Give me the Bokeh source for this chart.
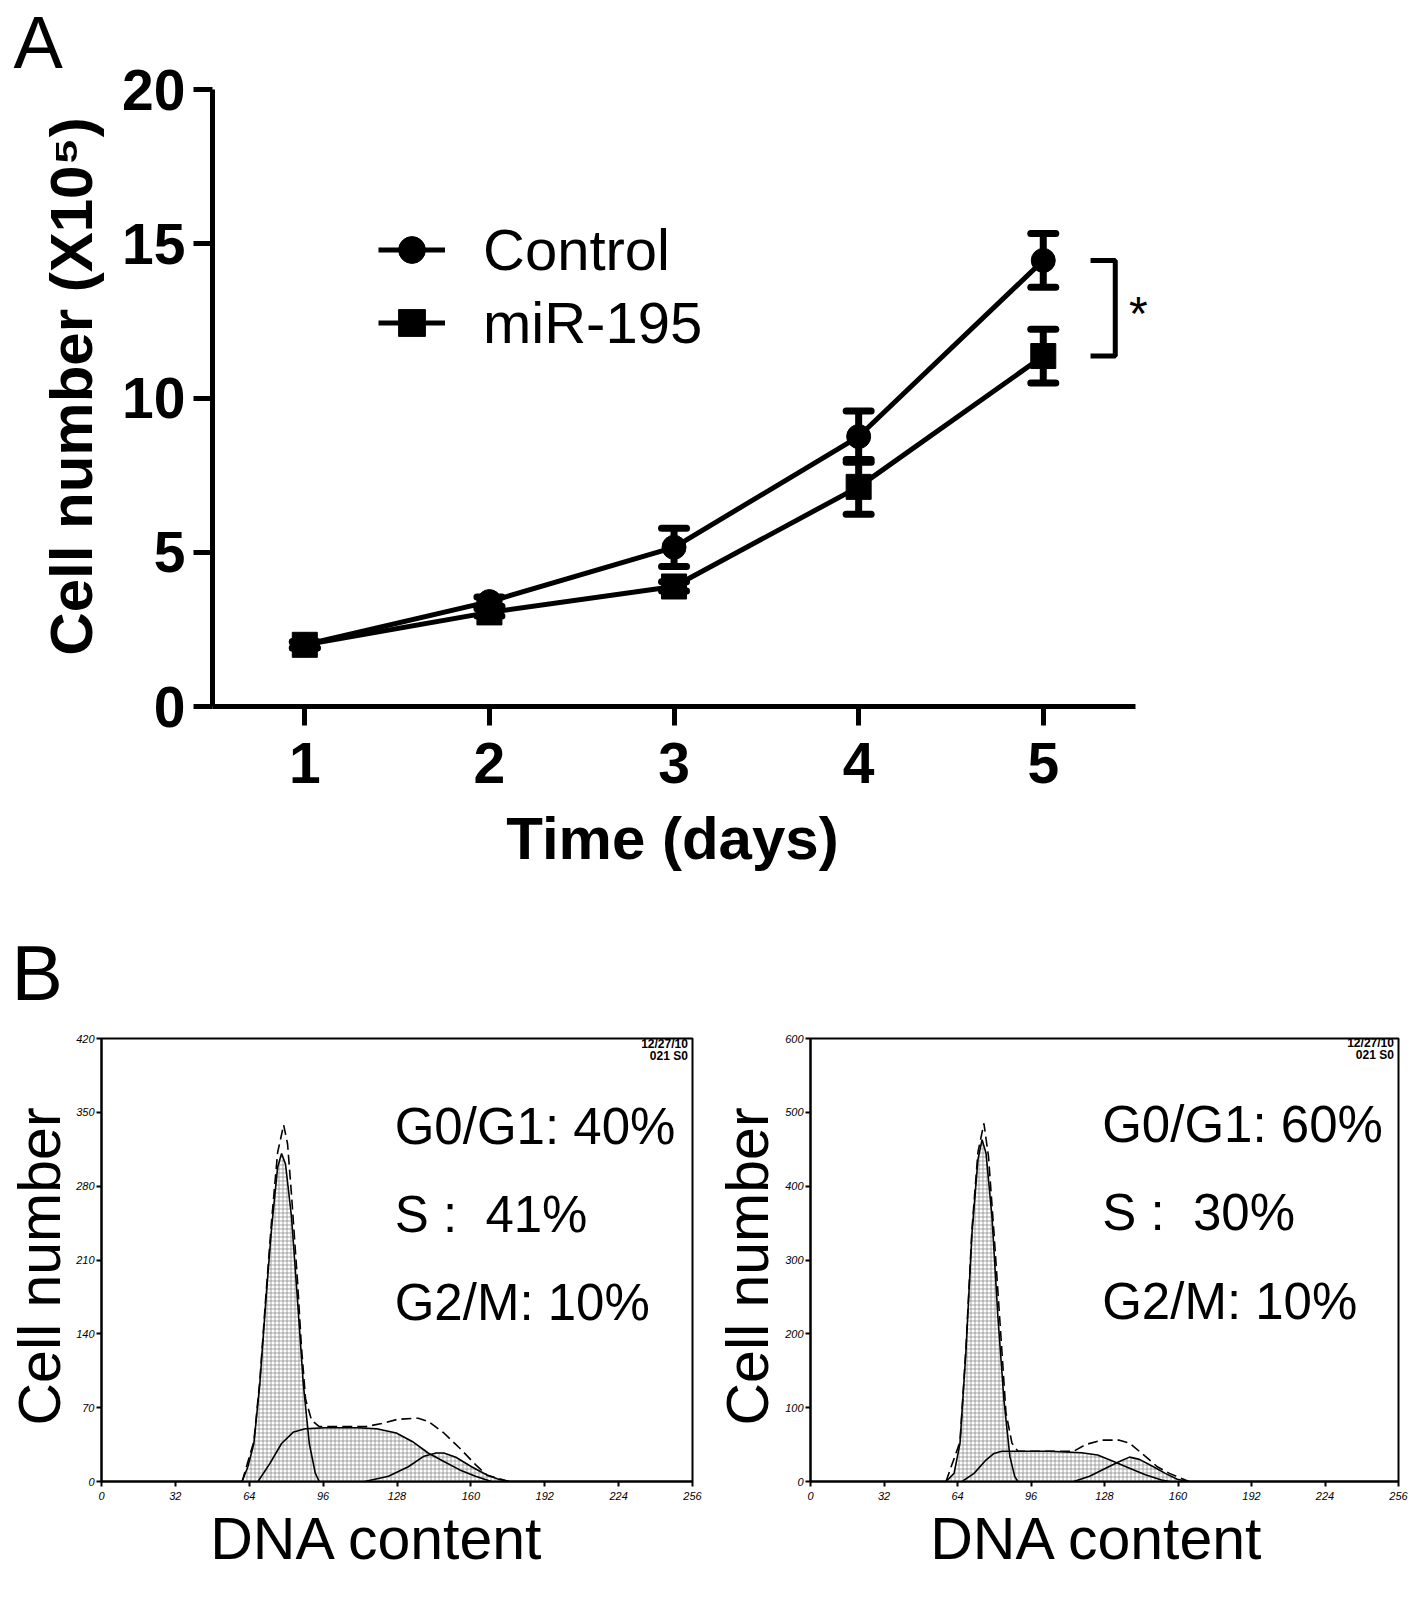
import numpy as np
from bokeh.plotting import figure
from bokeh.layouts import column, row
from bokeh.models import (ColumnDataSource, Whisker, TeeHead, Legend, LegendItem,
                          Label, FixedTicker, Range1d)
from bokeh.embed import file_html
from bokeh.resources import INLINE

FONT = "Liberation Sans"

# ---- panel A: growth curve ----
days = [1, 2, 3, 4, 5]
control_mean = [2.0, 3.4, 5.16, 8.75, 14.46]
control_err = [0.1, 0.15, 0.62, 0.83, 0.87]
mir_mean = [2.0, 3.05, 3.89, 7.12, 11.36]
mir_err = [0.1, 0.12, 0.15, 0.89, 0.87]
cell_ticks = [0, 5, 10, 15, 20]

# ---- panel B: DNA histograms ----
dna_ticks = [0, 32, 64, 96, 128, 160, 192, 224, 256]
left_count_ticks = [0, 70, 140, 210, 280, 350, 420]
right_count_ticks = [0, 100, 200, 300, 400, 500, 600]

left_g1_dna = [60.9, 63.4, 66.0, 68.6, 71.2, 73.7, 76.3, 78.0, 79.7, 82.3, 84.9, 87.4, 90.0, 92.6, 94.3]
left_g1_count = [0, 14, 36, 93, 172, 241, 298, 311, 301, 251, 172, 93, 36, 8, 0]
left_s_dna = [67.8, 72.9, 78.0, 83.2, 88.3, 96.9, 110.6, 119.2, 127.7, 134.6, 141.5, 148.3, 155.2, 162.0, 168.9]
left_s_count = [0, 17, 36, 47, 50, 51, 51, 50, 46, 38, 27, 19, 11, 5, 0]
left_g2_dna = [114.0, 124.3, 132.9, 139.7, 144.9, 148.3, 153.5, 160.3, 167.2, 172.3, 176.6]
left_g2_count = [0, 5, 14, 24, 27, 27, 23, 14, 6, 2, 0]
left_sum_dna = [60.9, 66.0, 68.6, 71.2, 73.7, 76.3, 78.9, 80.6, 82.3, 84.9, 86.6, 88.4, 91.0, 94.3,
                100.0, 114.5, 121.4, 128.3, 137.2, 141.5, 148.3, 155.0, 162.0, 167.0, 176.6]
left_sum_count = [0, 38, 96, 176, 248, 312, 338, 320, 272, 190, 128, 78, 58, 52,
                  52, 52, 55, 59, 60, 57, 46, 32, 16, 6, 0]

right_g1_dna = [59.0, 62.5, 65.1, 67.7, 70.3, 72.9, 74.7, 76.4, 79.0, 81.6, 84.2, 86.8, 88.9, 90.3]
right_g1_count = [0, 11, 52, 178, 336, 436, 463, 445, 359, 223, 111, 34, 7, 0]
right_s_dna = [66.0, 71.2, 76.4, 79.9, 83.3, 104.2, 118.0, 125.0, 132.0, 138.9, 145.8, 152.8, 156.3]
right_s_count = [0, 11, 29, 38, 41, 41, 39, 36, 27, 18, 9, 2, 0]
right_g2_dna = [114.6, 121.5, 128.5, 134.5, 138.9, 143.2, 149.3, 154.5, 159.7, 164.0]
right_g2_count = [0, 7, 18, 27, 33, 30, 20, 11, 3, 0]
right_sum_dna = [59.0, 65.1, 67.7, 70.3, 72.9, 75.5, 77.5, 79.9, 83.3, 85.1, 87.7, 90.3,
                 114.6, 119.8, 126.7, 134.5, 138.9, 145.8, 151.0, 156.3, 163.2, 164.9]
right_sum_count = [0, 54, 182, 342, 446, 485, 440, 336, 178, 93, 52, 41,
                   41, 50, 56, 56, 52, 34, 20, 11, 2, 0]

left_phases = ["G0/G1: 40%", "S :\u00a0 41%", "G2/M: 10%"]
right_phases = ["G0/G1: 60%", "S :\u00a0 30%", "G2/M: 10%"]
stamp = ["12/27/10", "021 S0"]


def style_axis(ax, size, bold, tick_len, width):
    ax.axis_line_width = width
    ax.axis_line_color = "black"
    ax.major_tick_line_width = width
    ax.major_tick_line_color = "black"
    ax.major_tick_out = tick_len
    ax.major_tick_in = 0
    ax.minor_tick_line_color = None
    ax.major_label_text_font = FONT
    ax.major_label_text_font_size = size
    ax.major_label_text_font_style = "bold" if bold else "italic"
    ax.major_label_text_color = "black"


def canvas_text(p, place, x, y, text, size, style="normal", angle=0, align="center",
                baseline="bottom"):
    # text placed in canvas pixels of the figure, in a side panel so it is not clipped
    p.add_layout(Label(x=x, y=y, x_units="canvas", y_units="canvas", text=text,
                       text_font=FONT, text_font_size=size, text_font_style=style,
                       text_color="black", text_align=align, text_baseline=baseline,
                       angle=angle, angle_units="deg"), place)


# ---------------- panel A ----------------
pa = figure(width=1409, height=910, x_range=Range1d(0.5, 5.7), y_range=Range1d(0, 20),
            output_backend="svg", toolbar_location=None,
            min_border_left=212, min_border_right=237, min_border_top=89, min_border_bottom=204)
pa.grid.visible = False
pa.outline_line_color = None

for ax in (pa.xaxis[0], pa.yaxis[0]):
    style_axis(ax, "57px", True, 19, 5)
pa.xaxis.ticker = FixedTicker(ticks=days)
pa.xaxis.bounds = (0.5, 5.5)
pa.xaxis.major_label_standoff = 17
pa.yaxis.ticker = FixedTicker(ticks=cell_ticks)
pa.yaxis.major_label_standoff = 8

ctrl_lo = np.array(control_mean) - np.array(control_err)
ctrl_hi = np.array(control_mean) + np.array(control_err)
mir_lo = np.array(mir_mean) - np.array(mir_err)
mir_hi = np.array(mir_mean) + np.array(mir_err)

cl = pa.line(days, control_mean, line_color="black", line_width=5)
ml = pa.line(days, mir_mean, line_color="black", line_width=5)
for lo, hi in ((ctrl_lo, ctrl_hi), (mir_lo, mir_hi)):
    src = ColumnDataSource(dict(x=days, lo=lo, hi=hi))
    pa.add_layout(Whisker(source=src, base="x", lower="lo", upper="hi", line_width=7,
                          upper_head=TeeHead(size=25, line_width=7, line_cap="round"),
                          lower_head=TeeHead(size=25, line_width=7, line_cap="round")))
cs = pa.scatter(days, control_mean, marker="circle", size=24, color="black")
ms = pa.scatter(days, mir_mean, marker="square", size=25, color="black")

legend = Legend(items=[LegendItem(label="Control", renderers=[cl, cs]),
                       LegendItem(label="miR-195", renderers=[ml, ms])],
                location=(166, 350), glyph_width=67, glyph_height=67, label_height=67,
                spacing=6, padding=0, margin=0, label_standoff=38,
                border_line_color=None, background_fill_alpha=0,
                label_text_font=FONT, label_text_font_size="58px", label_text_color="black")
pa.add_layout(legend)

# significance bracket between the day-5 means
pa.line([5.256, 5.39, 5.39, 5.256],
        [control_mean[-1], control_mean[-1], mir_mean[-1], mir_mean[-1]],
        line_color="black", line_width=5)
pa.add_layout(Label(x=5.515, y=11.87, text="*", text_align="center",
                    text_font=FONT, text_font_size="48px", text_color="black"))

canvas_text(pa, "above", 13, 83, "A", "74px", align="left")
canvas_text(pa, "below", 672, 871, "Time (days)", "60px", style="bold")
canvas_text(pa, "left", 71, 386, "Cell number (X10\u2075)", "60px", style="bold", angle=90,
            baseline="middle")


# ---------------- panel B ----------------
def hist_panel(width, border_left, border_right, y_max, y_ticks, g1, s, g2, total,
               phases, phase_y, stamp_y, xlabel_x):
    p = figure(width=width, height=695, x_range=Range1d(0, 256), y_range=Range1d(0, y_max),
               output_backend="svg", toolbar_location=None,
               min_border_left=border_left, min_border_right=border_right,
               min_border_top=128, min_border_bottom=124)
    p.grid.visible = False
    p.outline_line_color = "black"
    p.outline_line_width = 2
    for ax in (p.xaxis[0], p.yaxis[0]):
        style_axis(ax, "11px", False, 5, 2)
    p.xaxis.major_label_standoff = 5
    p.yaxis.major_label_standoff = 2
    p.xaxis.ticker = FixedTicker(ticks=dna_ticks)
    p.yaxis.ticker = FixedTicker(ticks=y_ticks)

    for xs, ys in (g1, s, g2):
        p.patch(xs, ys, fill_color="white", line_color=None,
                hatch_pattern="+", hatch_color="#808080", hatch_scale=4, hatch_weight=0.7)
    for xs, ys in (g1, s, g2):
        p.line(xs, ys, line_color="black", line_width=1.6)
    p.line(total[0], total[1], line_color="black", line_width=1.6, line_dash="10 5")

    for txt, yy in zip(phases, phase_y):
        p.add_layout(Label(x=127, y=yy, text=txt, text_font=FONT, text_font_size="51px",
                           text_color="black"))
    for txt, yy in zip(stamp, stamp_y):
        p.add_layout(Label(x=254, y=yy, text=txt, text_align="right", text_font=FONT,
                           text_font_size="12px", text_font_style="bold", text_color="black"))

    canvas_text(p, "below", xlabel_x, 661, "DNA content", "59px")
    canvas_text(p, "left", 39, 356, "Cell number", "59px", angle=90, baseline="middle")
    return p


pb1 = hist_panel(708, 101, 16, 420, left_count_ticks,
                 (left_g1_dna, left_g1_count), (left_s_dna, left_s_count),
                 (left_g2_dna, left_g2_count), (left_sum_dna, left_sum_count),
                 left_phases, [310, 226.5, 143], [408.6, 397.2], 377)
canvas_text(pb1, "above", 11, 105, "B", "77px", align="left")
pb2 = hist_panel(701, 102, 11, 600, right_count_ticks,
                 (right_g1_dna, right_g1_count), (right_s_dna, right_s_count),
                 (right_g2_dna, right_g2_count), (right_sum_dna, right_sum_count),
                 right_phases, [444.5, 325.5, 205.5], [583.8, 567.6], 389)

layout = column(pa, row(pb1, pb2))
open("out.html", "w").write(file_html(layout, INLINE))
